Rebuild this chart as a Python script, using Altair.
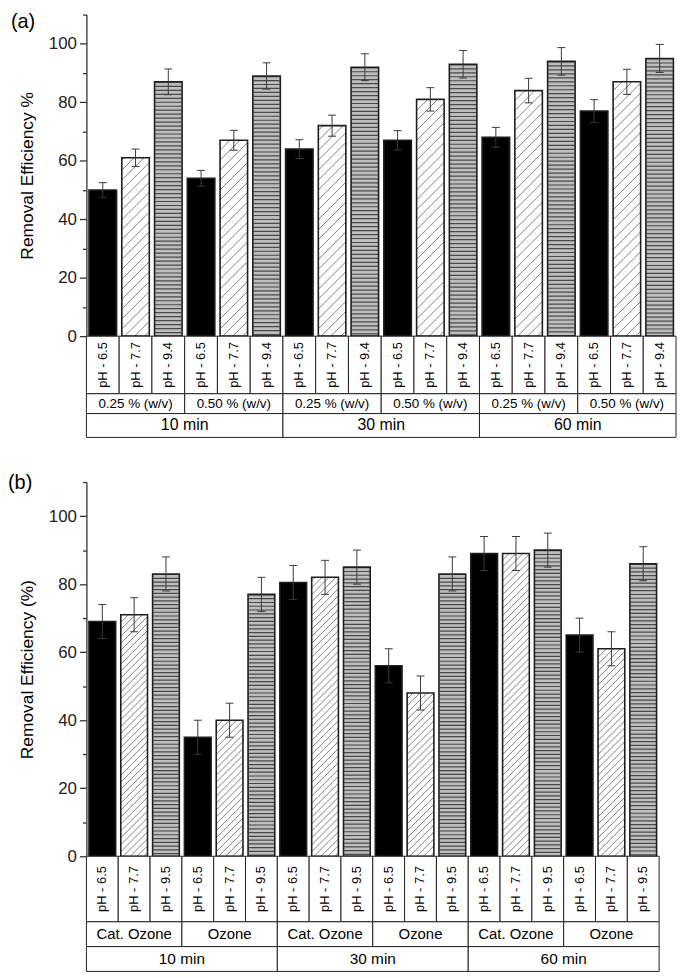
import altair as alt
import pandas as pd

# ---------------- data ----------------
times = ["10 min", "30 min", "60 min"]

ph_a = ["pH - 6.5", "pH - 7.7", "pH - 9.4"]
dose_a = ["0.25 % (w/v)", "0.50 % (w/v)"]
values_a = [50, 61, 87, 54, 67, 89, 64, 72, 92, 67, 81, 93, 68, 84, 94, 77, 87, 95]
errors_a = [2.5, 3.0, 4.4, 2.7, 3.4, 4.5, 3.2, 3.6, 4.6, 3.3, 4.0, 4.7, 3.4, 4.2, 4.7, 3.9, 4.3, 4.8]

ph_b = ["pH - 6.5", "pH - 7.7", "pH - 9.5"]
treat_b = ["Cat. Ozone", "Ozone"]
values_b = [69, 71, 83, 35, 40, 77, 80.5, 82, 85, 56, 48, 83, 89, 89, 90, 65, 61, 86]
errors_b = [5, 5, 5, 5, 5, 5, 5, 5, 5, 5, 5, 5, 5, 5, 5, 5, 5, 5]

# ---------------- style ----------------
FONT = "Liberation Sans"
FILLS = ["#000000", "#ffffff", "#bdbdbd"]
YMAX = 110
N = 18
BAR_L, BAR_R = 0.08, 0.92
MAJOR = "datum.value % 20 == 0"


def hatch_segments(values, W, H, step):
    pxX = W / N
    pxY = H / YMAX
    segs = []
    for i, v in enumerate(values):
        if i % 3 != 1:
            continue
        xl = i + BAR_L
        w = (BAR_R - BAR_L) * pxX
        h = v * pxY
        c = -w + step * 0.5
        while c < h:
            u0 = max(0.0, -c)
            u1 = min(w, h - c)
            if u1 - u0 > 0.3:
                segs.append({"x": xl + u0 / pxX, "x2": xl + u1 / pxX,
                             "y": (u0 + c) / pxY, "y2": (u1 + c) / pxY})
            c += step
    return pd.DataFrame(segs)


def make_panel(tag, ytitle, values, errors, phs, mids, W, H, rows,
               fs_ph, fs_mid, fs_time, hatch_step, dash, tag_dx, tag_dy):
    recs = []
    for i, (v, e) in enumerate(zip(values, errors)):
        recs.append({"x0": i + BAR_L, "x1": i + BAR_R, "xc": i + 0.5,
                     "v": v, "lo": v - e, "hi": v + e, "k": i % 3})
    df = pd.DataFrame(recs)
    xs = alt.Scale(domain=[0, N], nice=False, zero=False)
    ys = alt.Scale(domain=[0, YMAX], nice=False, zero=True)
    barpx = (BAR_R - BAR_L) * W / N

    yaxis = alt.Axis(
        values=list(range(0, 111, 10)),
        labelExpr=MAJOR + " ? datum.label : ''",
        tickSize={"condition": {"test": MAJOR, "value": 7}, "value": 4},
        labelFontSize={"condition": {"test": MAJOR, "value": 17}, "value": 0},
        grid=False, domainColor="#333333", domainWidth=1.3,
        tickColor="#333333", tickWidth=1.3,
        labelColor="#222222", labelFont=FONT, labelPadding=3,
        labelFlush=False, labelOverlap=False,
        title=ytitle, titleFont=FONT, titleFontSize=17.5, titleFontWeight="normal",
        titleColor="#000000", titlePadding=12,
    )

    def Y(field):
        return alt.Y(field, scale=ys, axis=yaxis)

    base = alt.Chart(df)
    X0 = alt.X("x0:Q", scale=xs, axis=None)
    XC = alt.X("xc:Q", scale=xs, axis=None)

    fill = base.mark_bar(strokeWidth=0).encode(
        x=X0, x2="x1:Q",
        y=Y("v:Q"), y2=alt.datum(0),
        fill=alt.Fill("k:N", scale=alt.Scale(domain=[0, 1, 2], range=FILLS), legend=None),
    )
    stripes = base.transform_filter("datum.k == 2").mark_rule(
        color="#4a4a4a", strokeWidth=barpx - 1.2, strokeDash=dash, strokeCap="butt"
    ).encode(x=XC, y=Y("v:Q"), y2=alt.datum(0))

    hdf = hatch_segments(values, W, H, hatch_step)
    hatch = alt.Chart(hdf).mark_rule(color="#707070", strokeWidth=0.9).encode(
        x=alt.X("x:Q", scale=xs, axis=None), x2="x2:Q",
        y=Y("y:Q"), y2="y2:Q",
    )
    outline = base.mark_bar(fillOpacity=0, stroke="#1e1e1e", strokeWidth=1.6).encode(
        x=X0, x2="x1:Q", y=Y("v:Q"), y2=alt.datum(0)
    )
    err = base.mark_rule(color="#3a3a3a", strokeWidth=1).encode(
        x=XC, y=Y("lo:Q"), y2="hi:Q"
    )
    cap_hi = base.mark_tick(orient="horizontal", size=8, thickness=1, color="#3a3a3a", opacity=1).encode(
        x=XC, y=Y("hi:Q")
    )
    cap_lo = base.mark_tick(orient="horizontal", size=8, thickness=1, color="#3a3a3a", opacity=1).encode(
        x=XC, y=Y("lo:Q")
    )
    bars = alt.layer(fill, stripes, hatch, outline, err, cap_hi, cap_lo).properties(
        width=W, height=H,
        title=alt.TitleParams(tag, anchor="start", frame="group", dx=tag_dx, dy=tag_dy,
                              fontSize=20, font=FONT, fontWeight="normal", color="#000000", offset=0),
    )

    # ---- category table under the bars ----
    r1, r2, r3 = rows
    Ht = r1 + r2 + r3
    c_ph = pd.DataFrame([{"x0": i, "x1": i + 1, "y0": 0, "y1": r1, "xc": i + 0.5, "yc": r1 / 2,
                          "t": phs[i % 3]} for i in range(N)])
    c_mid = pd.DataFrame([{"x0": 3 * j, "x1": 3 * j + 3, "y0": r1, "y1": r1 + r2,
                           "xc": 3 * j + 1.5, "yc": r1 + r2 / 2, "t": mids[j % 2]} for j in range(6)])
    c_time = pd.DataFrame([{"x0": 6 * t, "x1": 6 * t + 6, "y0": r1 + r2, "y1": Ht,
                            "xc": 6 * t + 3, "yc": r1 + r2 + r3 / 2, "t": times[t]} for t in range(3)])
    cells = pd.concat([c_ph, c_mid, c_time], ignore_index=True)
    ts = alt.Scale(domain=[0, Ht], reverse=True, nice=False, zero=False)
    rects = alt.Chart(cells).mark_rect(fill="#ffffff", stroke="#222222", strokeWidth=1).encode(
        x=alt.X("x0:Q", scale=xs, axis=None), x2="x1:Q",
        y=alt.Y("y0:Q", scale=ts, axis=None), y2="y1:Q",
    )

    def txt(d, size, angle=0):
        mk = dict(font=FONT, fontSize=size, color="#000000", align="center", baseline="middle")
        if angle:
            mk["angle"] = angle
        return alt.Chart(d).mark_text(**mk).encode(
            x=alt.X("xc:Q", scale=xs, axis=None),
            y=alt.Y("yc:Q", scale=ts, axis=None),
            text="t:N",
        )

    table = alt.layer(rects, txt(c_ph, fs_ph, 270), txt(c_mid, fs_mid), txt(c_time, fs_time)).properties(
        width=W, height=Ht
    )
    return alt.vconcat(bars, table, spacing=0, bounds="flush")


panel_a = make_panel("(a)", "Removal Efficiency %", values_a, errors_a, ph_a, dose_a,
                     W=594, H=324, rows=(58, 20, 24), fs_ph=13, fs_mid=13.5, fs_time=16,
                     hatch_step=10, dash=[1.2, 2.8], tag_dx=-76, tag_dy=18)
panel_b = make_panel("(b)", "Removal Efficiency (%)", values_b, errors_b, ph_b, treat_b,
                     W=577, H=377, rows=(66, 25, 25), fs_ph=13, fs_mid=15, fs_time=15.5,
                     hatch_step=7, dash=[1.2, 2.6], tag_dx=-79, tag_dy=12)

chart = alt.vconcat(panel_a, panel_b, spacing=35).properties(padding=0).configure(
    font=FONT
).configure_view(stroke=None)

chart.save("out.html", embed_options={"renderer": "svg", "actions": False})
